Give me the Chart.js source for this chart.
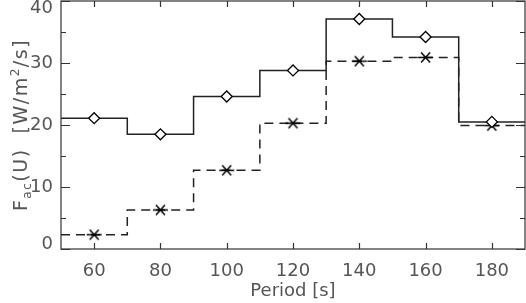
<!DOCTYPE html>
<html>
<head>
<meta charset="utf-8">
<script src="https://cdn.jsdelivr.net/npm/chart.js@4/dist/chart.umd.min.js"></script>
<style>
  html, body { margin: 0; padding: 0; background: #fff; }
  #wrap { width: 526px; height: 303px; }
</style>
</head>
<body>
<div id="wrap"><canvas id="myChart" width="526" height="303"></canvas></div>
<script>
'use strict';

// ======= data =======

var periods = [60, 80, 100, 120, 140, 160, 180];
var binEdges = [50, 190];
var fluxSolid = [21.1, 18.5, 24.6, 28.8, 37.1, 34.2, 20.5];
var fluxDashed = [2.3, 6.3, 12.7, 20.3, 30.3, 30.9, 19.9];
var xTicks = [60, 80, 100, 120, 140, 160, 180];
var yTicks = [0, 10, 20, 30, 40];
var yMinorTicks = [5, 15, 25, 35];

var textColor = '#555';
var lineColor = '#222';
var fontFamily = '"DejaVu Sans", sans-serif';

// ======= helpers =======

// step line: pad first/last value out to the bin edges
function stepData(values) {
  var pts = [{ x: binEdges[0], y: values[0] }];
  for (var i = 0; i < periods.length; i++) {
    pts.push({ x: periods[i], y: values[i] });
  }
  pts.push({ x: binEdges[1], y: values[values.length - 1] });
  return pts;
}

function hideEnds(r) {
  return function (ctx) {
    var last = ctx.dataset.data.length - 1;
    return (ctx.dataIndex === 0 || ctx.dataIndex === last) ? 0 : r;
  };
}

// asterisk marker like IDL psym=2
function makeAsterisk() {
  var c = document.createElement('canvas');
  c.width = 17;
  c.height = 15;
  var g = c.getContext('2d');
  g.strokeStyle = '#000';
  g.lineWidth = 1.5;
  g.beginPath();
  g.moveTo(1, 7.5); g.lineTo(16, 7.5);
  g.moveTo(4, 2.5); g.lineTo(13, 12.5);
  g.moveTo(4, 12.5); g.lineTo(13, 2.5);
  g.stroke();
  return c;
}

// box around plot with inward ticks, y labels and the y title
var framePlugin = {
  id: 'frame',
  afterDraw: function (chart) {
    var ctx = chart.ctx;
    var a = chart.chartArea;
    var xs = chart.scales.x;
    var ys = chart.scales.y;
    ctx.save();
    ctx.strokeStyle = '#333';
    ctx.lineWidth = 1.2;
    ctx.strokeRect(a.left, a.top, a.right - a.left, a.bottom - a.top);
    ctx.beginPath();
    xTicks.forEach(function (v) {
      var px = Math.round(xs.getPixelForValue(v)) + 0.5;
      ctx.moveTo(px, a.bottom); ctx.lineTo(px, a.bottom - 6);
      ctx.moveTo(px, a.top); ctx.lineTo(px, a.top + 6);
    });
    yTicks.forEach(function (v) {
      var py = Math.round(ys.getPixelForValue(v)) + 0.5;
      ctx.moveTo(a.left, py); ctx.lineTo(a.left + 9, py);
      ctx.moveTo(a.right, py); ctx.lineTo(a.right - 9, py);
    });
    yMinorTicks.forEach(function (v) {
      var py = Math.round(ys.getPixelForValue(v)) + 0.5;
      ctx.moveTo(a.left, py); ctx.lineTo(a.left + 5, py);
      ctx.moveTo(a.right, py); ctx.lineTo(a.right - 5, py);
    });
    ctx.stroke();

    // y tick labels, end ones pulled inside the axis range
    ctx.fillStyle = textColor;
    ctx.font = '18px ' + fontFamily;
    ctx.textAlign = 'right';
    ctx.textBaseline = 'middle';
    yTicks.forEach(function (v) {
      var py = ys.getPixelForValue(v);
      py = Math.min(Math.max(py, a.top + 7), a.bottom - 5);
      ctx.fillText(String(v), a.left - 8, py);
    });

    // y axis title: F_ac(U) [W/m^2/s]
    var parts = [
      { t: 'F', size: 19, dy: 0 },
      { t: 'ac', size: 12, dy: 4 },
      { t: '(U)  [W/m', size: 19, dy: 0 },
      { t: '2', size: 12, dy: -8 },
      { t: '/s]', size: 19, dy: 0 }
    ];
    ctx.textAlign = 'left';
    ctx.textBaseline = 'alphabetic';
    ctx.letterSpacing = '1.5px';
    var total = 0;
    parts.forEach(function (p) {
      ctx.font = p.size + 'px ' + fontFamily;
      p.w = ctx.measureText(p.t).width;
      total += p.w;
    });
    ctx.translate(27, (a.top + a.bottom) / 2);
    ctx.rotate(-Math.PI / 2);
    var x = -total / 2;
    parts.forEach(function (p) {
      ctx.font = p.size + 'px ' + fontFamily;
      ctx.fillText(p.t, x, p.dy);
      x += p.w;
    });
    ctx.restore();
  }
};

// ======= chart =======

var ctx = document.getElementById('myChart').getContext('2d');
var chart = new Chart(ctx, {
  type: 'line',
  data: {
    datasets: [{
      label: 'solid',
      data: stepData(fluxSolid),
      stepped: 'middle',
      borderColor: lineColor,
      borderWidth: 1.5,
      pointStyle: 'rectRot',
      pointRadius: hideEnds(5.5),
      pointBackgroundColor: '#fff',
      pointBorderColor: '#000',
      pointBorderWidth: 1.3,
      fill: false
    },
    {
      label: 'dashed',
      data: stepData(fluxDashed),
      stepped: 'middle',
      borderColor: lineColor,
      borderWidth: 1.5,
      borderDash: [9, 6],
      pointStyle: makeAsterisk(),
      pointRadius: hideEnds(5),
      fill: false
    }]
  },
  plugins: [framePlugin],
  options: {
    responsive: false,
    animation: false,
    layout: { padding: { top: 1, right: 1, left: 0, bottom: 0 } },
    plugins: { legend: { display: false }, tooltip: { enabled: false } },
    scales: {
      x: {
        type: 'linear',
        min: 50,
        max: 190,
        afterBuildTicks: function (s) {
          s.ticks = xTicks.map(function (v) { return { value: v }; });
        },
        afterFit: function (s) {
          s.height = 54;
          s.paddingLeft = 0;
          s.paddingRight = 0;
        },
        grid: { display: false, drawTicks: false },
        border: { display: false },
        ticks: {
          color: textColor,
          padding: 12,
          maxRotation: 0,
          font: { family: fontFamily, size: 18 }
        },
        title: {
          display: true,
          text: 'Period [s]',
          color: textColor,
          padding: { top: 0, bottom: 1 },
          font: { family: fontFamily, size: 18 }
        }
      },
      y: {
        min: 0,
        max: 40,
        afterBuildTicks: function (s) {
          s.ticks = yTicks.map(function (v) { return { value: v }; });
        },
        afterFit: function (s) {
          s.width = 61;
          s.paddingTop = 0;
          s.paddingBottom = 0;
        },
        grid: { display: false, drawTicks: false },
        border: { display: false },
        ticks: { display: false }
      }
    }
  }
});
</script>
</body>
</html>
